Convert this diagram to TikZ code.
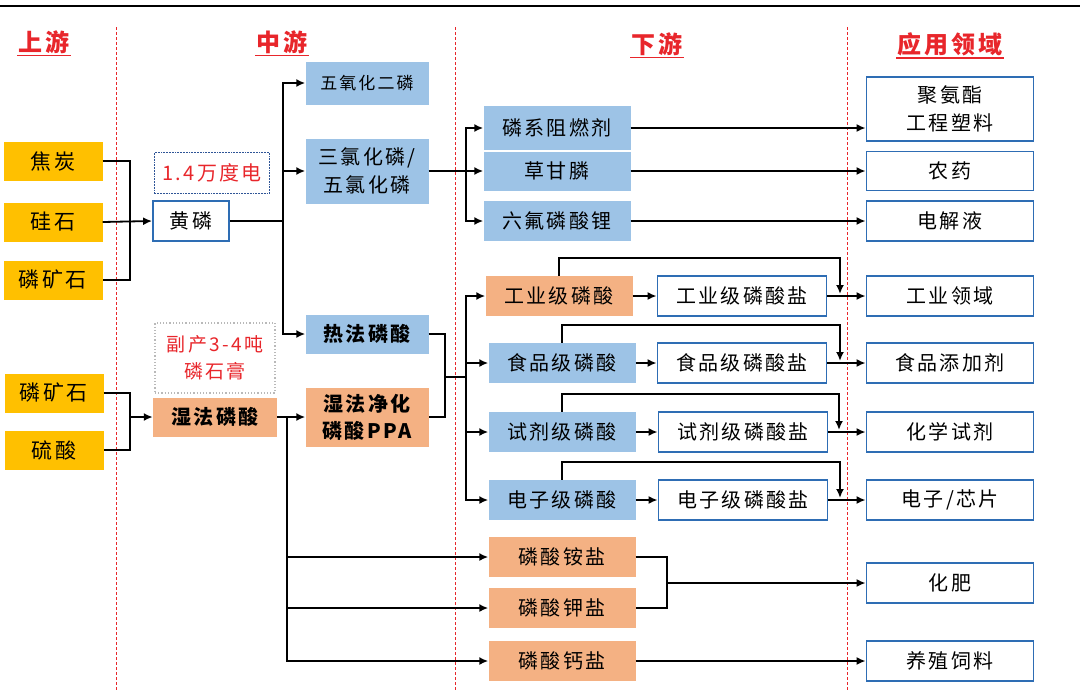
\documentclass[tikz,border=0pt]{standalone}
\usepackage{fontspec}
\setmainfont{Noto Sans CJK SC}[LetterSpace=12]
\usetikzlibrary{arrows.meta}
\definecolor{amber}{HTML}{FFC000}
\definecolor{skyb}{HTML}{9DC3E6}
\definecolor{salmon}{HTML}{F4B183}
\definecolor{edgeb}{HTML}{2E6DB4}
\definecolor{dotb}{HTML}{2F5597}
\definecolor{hred}{HTML}{E8262B}
\tikzset{
  box/.style={inner sep=0pt, align=center, font=\fontsize{20}{24}\selectfont},
  upbox/.style={box, fill=amber, minimum width=99, minimum height=39, font=\fontsize{21}{24}\selectfont},
  blbox/.style={box, fill=skyb, minimum width=147, minimum height=40},
  orbox/.style={box, fill=salmon, minimum width=147, minimum height=40},
  whbox/.style={box, draw=edgeb, line width=1.8pt, fill=white, minimum width=167, minimum height=40},
  head/.style={text=hred, inner xsep=1pt, inner ysep=2pt, font=\fontsize{24}{24}\selectfont\bfseries},
  ln/.style={line width=1.8pt},
  arr/.style={ln, -{Latex[length=9pt,width=8pt]}},
  sep/.style={hred, line width=0.9pt, dash pattern=on 3pt off 2pt}
}
\begin{document}
\begin{tikzpicture}[x=1pt,y=-1pt]
\useasboundingbox (0,0) rectangle (1080,691);
\draw[line width=2pt] (0,6) -- (1080,6);

\draw[sep] (116,27) -- (116,691);
\draw[sep] (455,27) -- (455,691);
\draw[sep] (847,27) -- (847,691);

\node[head] (hup) at (44,42) {上游};
\node[head] (hmid) at (282,42) {中游};
\node[head] (hdown) at (657,44) {下游};
\node[head] (happ) at (950,44) {应用领域};
\foreach \h in {hup,hmid,hdown,happ}
  \draw[hred, line width=1.3pt] (\h.south west) -- (\h.south east);

\node[upbox] (jt) at (53,161) {焦炭};
\node[upbox] (gs) at (53,222) {硅石};
\node[upbox] (lk1) at (53,280) {磷矿石};
\node[upbox] (lk2) at (54,393) {磷矿石};
\node[upbox] (ls) at (54,450) {硫酸};

\node[box, draw=dotb, line width=1.8pt, densely dotted, text=hred, minimum width=115, minimum height=41, font=\fontsize{20}{24}\selectfont] (dian) at (212,173) {1.4万度电};
\node[whbox, minimum width=76] (hl) at (191,221) {黄磷};
\node[box, draw=gray!55, line width=1.2pt, dotted, text=hred, minimum width=120, minimum height=70, font=\fontsize{19}{27}\selectfont] (sg) at (215,358) {副产3-4吨\\磷石膏};
\node[orbox, minimum width=124, minimum height=39, font=\fontsize{20}{24}\selectfont\bfseries] (sf) at (215,417) {湿法磷酸};

\node[blbox, minimum width=123, minimum height=43, font=\fontsize{17}{20}\selectfont] (wy) at (367,83) {五氧化二磷};
\node[blbox, minimum width=123, minimum height=65, font=\fontsize{20}{28}\selectfont] (sl) at (367,171) {三氯化磷/\\五氯化磷};
\node[blbox, minimum width=123, minimum height=39, font=\fontsize{20}{24}\selectfont\bfseries] (rf) at (367,334) {热法磷酸};
\node[orbox, minimum width=123, minimum height=59, font=\fontsize{20}{27}\selectfont\bfseries] (ppa) at (367,417) {湿法净化\\磷酸PPA};

\node[blbox, minimum height=44] (zr) at (557,128) {磷系阻燃剂};
\node[blbox, minimum height=39] (cg) at (557,171) {草甘膦};
\node[blbox] (lf) at (557,221) {六氟磷酸锂};
\node[orbox] (gy) at (559,296) {工业级磷酸};
\node[blbox] (sp) at (562,363) {食品级磷酸};
\node[blbox] (sj) at (562,432) {试剂级磷酸};
\node[blbox] (dz) at (562,500) {电子级磷酸};
\node[orbox] (ay) at (562,557) {磷酸铵盐};
\node[orbox] (ky) at (562,608) {磷酸钾盐};
\node[orbox] (gai) at (562,661) {磷酸钙盐};

\node[whbox, minimum width=169] (gys) at (742,296) {工业级磷酸盐};
\node[whbox, minimum width=169] (sps) at (742,363) {食品级磷酸盐};
\node[whbox, minimum width=169] (sjs) at (743,432) {试剂级磷酸盐};
\node[whbox, minimum width=169] (dzs) at (743,500) {电子级磷酸盐};

\node[whbox, minimum height=64, font=\fontsize{20}{28}\selectfont] (jaz) at (950,109) {聚氨酯\\工程塑料};
\node[whbox, minimum height=39] (ny) at (950,171) {农药};
\node[whbox] (djy) at (950,221) {电解液};
\node[whbox] (gyly) at (950,296) {工业领域};
\node[whbox] (spt) at (950,363) {食品添加剂};
\node[whbox] (hxs) at (950,432) {化学试剂};
\node[whbox] (dzx) at (950,500) {电子/芯片};
\node[whbox] (hf) at (950,583) {化肥};
\node[whbox] (yz) at (950,661) {养殖饲料};

\coordinate (jA) at (130,222);
\coordinate (jB) at (130,417);
\coordinate (jC) at (283,221);
\coordinate (jD) at (287,417);
\coordinate (jE) at (445,377);
\coordinate (jF) at (466,377);
\coordinate (jG) at (466,171);
\coordinate (jH) at (667,583);
\coordinate (gyk) at (840,294);
\coordinate (spk) at (840,361);
\coordinate (sjk) at (839,430);
\coordinate (dzk) at (840,498);

\draw[ln] (jt.east) -| (jA) |- (lk1.east);
\draw[arr] (gs.east) -- (hl.west);
\draw[ln] (lk2.east) -| (jB) |- (ls.east);
\draw[arr] (jB) -- (sf.west);

\draw[ln] (hl.east) -- (jC);
\draw[arr] (jC) |- (wy.west);
\draw[arr] (jC) |- (sl.west);
\draw[arr] (jC) |- (rf.west);

\draw[arr] (sf.east) -- (ppa.west);
\draw[arr] (jD) |- (ay.west);
\draw[arr] (jD) |- (ky.west);
\draw[arr] (jD) |- (gai.west);

\draw[ln] (rf.east) -| (jE) |- (ppa.east);
\draw[ln] (jE) -- (jF);
\draw[arr] (jF) |- (gy.west);
\draw[arr] (jF) |- (sp.west);
\draw[arr] (jF) |- (sj.west);
\draw[arr] (jF) |- (dz.west);

\draw[arr] (sl.east) -- (cg.west);
\draw[arr] (jG) |- (zr.west);
\draw[arr] (jG) |- (lf.west);

\draw[arr] (zr.east) -- (zr.east -| jaz.west);
\draw[arr] (cg.east) -- (ny.west);
\draw[arr] (lf.east) -- (djy.west);

\draw[arr] (gy.east) -- (gys.west);
\draw[arr] (sp.east) -- (sps.west);
\draw[arr] (sj.east) -- (sjs.west);
\draw[arr] (dz.east) -- (dzs.west);
\draw[arr] (gys.east) -- (gyly.west);
\draw[arr] (sps.east) -- (spt.west);
\draw[arr] (sjs.east) -- (hxs.west);
\draw[arr] (dzs.east) -- (dzx.west);
\draw[arr] (gy.north) -- ++(0,-18) -| (gyk);
\draw[arr] (sp.north) -- ++(0,-18) -| (spk);
\draw[arr] (sj.north) -- ++(0,-18) -| (sjk);
\draw[arr] (dz.north) -- ++(0,-18) -| (dzk);

\draw[ln] (ay.east) -| (jH) |- (ky.east);
\draw[arr] (jH) -- (hf.west);
\draw[arr] (gai.east) -- (yz.west);
\end{tikzpicture}
\end{document}
